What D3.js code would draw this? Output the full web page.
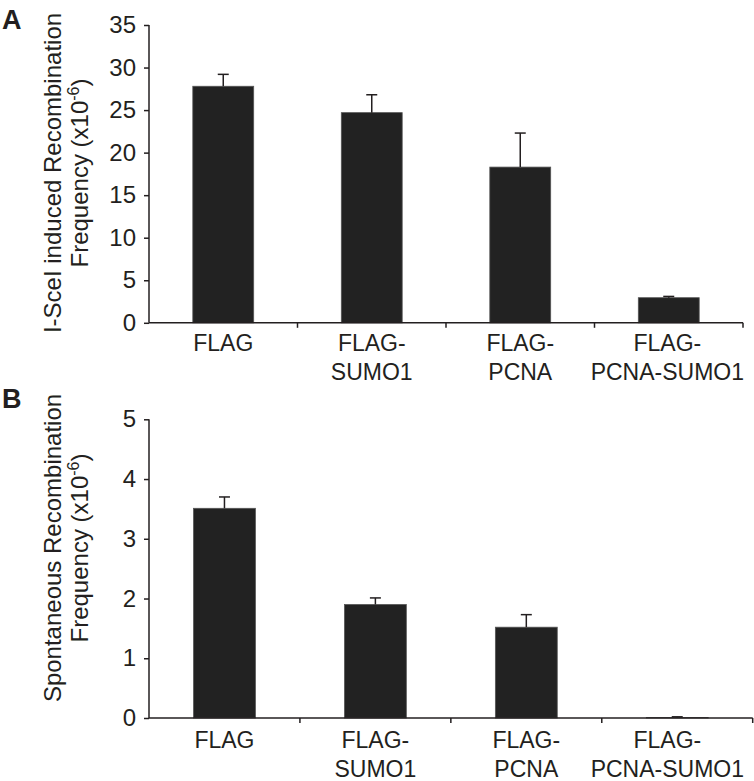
<!DOCTYPE html>
<html><head><meta charset="utf-8">
<script src="https://cdn.jsdelivr.net/npm/d3@7"></script>
<style>body{margin:0;background:#fff}svg{display:block}text{font-family:"Liberation Sans",Arial,sans-serif;fill:#231f20}</style>
</head><body>
<svg id="c" width="754" height="781"></svg>
<script>
const categories = [["FLAG"],["FLAG-","SUMO1"],["FLAG-","PCNA"],["FLAG-","PCNA-SUMO1"]];
const valuesA = [27.8, 24.7, 18.3, 2.95];
const errorsA = [1.4, 2.1, 4.0, 0.15];
const ticksA = [0,5,10,15,20,25,30,35];
const valuesB = [3.51, 1.9, 1.52, 0.01];
const errorsB = [0.19, 0.11, 0.21, 0.01];
const ticksB = [0,1,2,3,4,5];

const svg = d3.select("#c");
const ink = "#231f20";
const FONT = '"Liberation Sans",Arial,sans-serif';
const LABEL_RIGHT_LIMIT = 744;

function panel(cfg){
  const g = svg.append("g");
  const x = d3.scaleBand().domain(d3.range(categories.length)).range([cfg.x0, cfg.x1]).padding(0);
  const y = d3.scaleLinear().domain(cfg.domain).range([cfg.y0, cfg.y1]);
  const bw = x.bandwidth()*0.41;
  g.selectAll("rect.bar").data(cfg.values).join("rect")
    .attr("x",(d,i)=>x(i)+x.bandwidth()/2-bw/2)
    .attr("y",d=>y(d)).attr("width",bw).attr("height",d=>y(0)-y(d))
    .attr("fill","#222").attr("stroke","#555").attr("stroke-width",0.8);
  const cap = 11;
  cfg.values.forEach((v,i)=>{
    const cx = x(i)+x.bandwidth()/2;
    const top = y(v+cfg.errors[i]);
    g.append("line").attr("x1",cx).attr("x2",cx).attr("y1",y(v)).attr("y2",top).attr("stroke",ink).attr("stroke-width",1.5);
    g.append("line").attr("x1",cx-cap/2).attr("x2",cx+cap/2).attr("y1",top).attr("y2",top).attr("stroke",ink).attr("stroke-width",1.5);
  });
  const ya = g.append("g").attr("transform",`translate(${cfg.x0},0)`)
    .call(d3.axisLeft(y).tickValues(cfg.ticks).tickSize(5).tickPadding(8).tickFormat(d3.format("d")));
  ya.attr("font-size",null).attr("font-family",null);
  ya.select(".domain").attr("stroke",ink).attr("stroke-width",1.5).attr("d",`M0,${cfg.y1}V${cfg.y0}`);
  ya.selectAll(".tick line").attr("stroke",ink).attr("stroke-width",1.5);
  ya.selectAll(".tick text").attr("font-size",24).attr("fill",ink).style("font-family",FONT);
  const xa = g.append("g").attr("transform",`translate(0,${cfg.y0})`);
  xa.append("line").attr("x1",cfg.x0).attr("x2",cfg.x1).attr("y1",0).attr("y2",0).attr("stroke",ink).attr("stroke-width",1.5);
  d3.range(1,categories.length+1).forEach(i=>{
    const tx = i<categories.length ? x(i) : cfg.x1;
    xa.append("line").attr("x1",tx).attr("x2",tx).attr("y1",0).attr("y2",5).attr("stroke",ink).attr("stroke-width",1.5);
  });
  categories.forEach((lines,i)=>{
    let cx = x(i)+x.bandwidth()/2;
    const t = xa.append("text").attr("text-anchor","middle").attr("font-size",23)
      .attr("x",cx).attr("y",cfg.lab1);
    lines.forEach((l,j)=>t.append("tspan").attr("x",cx).attr("dy",j===0?0:cfg.labGap).text(l));
    const bb = t.node().getBBox();
    const over = bb.x + bb.width - LABEL_RIGHT_LIMIT;
    if (over > 0) { cx -= over; t.selectAll("tspan").attr("x",cx); }
  });
  const cy = cfg.titleY;
  g.append("text").attr("transform",`translate(61,${cy}) rotate(-90)`).attr("text-anchor","middle").attr("font-size",24).text(cfg.title);
  const t2 = g.append("text").attr("transform",`translate(88,${cy}) rotate(-90)`).attr("text-anchor","middle").attr("font-size",24);
  t2.append("tspan").text("Frequency (x10");
  t2.append("tspan").attr("dy",-9).attr("font-size",16).text("-6");
  t2.append("tspan").attr("dy",9).text(")");
  g.append("text").attr("x",2).attr("y",cfg.letterY).attr("font-size",27).attr("font-weight","bold").text(cfg.letter);
}

panel({x0:149, x1:743, y0:322.8, y1:25, domain:[0,35], ticks:ticksA, values:valuesA, errors:errorsA,
  lab1:28.7, labGap:28.3, title:"I-SceI induced Recombination", titleY:173, letter:"A", letterY:29});
panel({x0:149, x1:752.7, y0:718, y1:419.3, domain:[0,5], ticks:ticksB, values:valuesB, errors:errorsB,
  lab1:29.7, labGap:29, title:"Spontaneous Recombination", titleY:548, letter:"B", letterY:408});
</script>
</body></html>
